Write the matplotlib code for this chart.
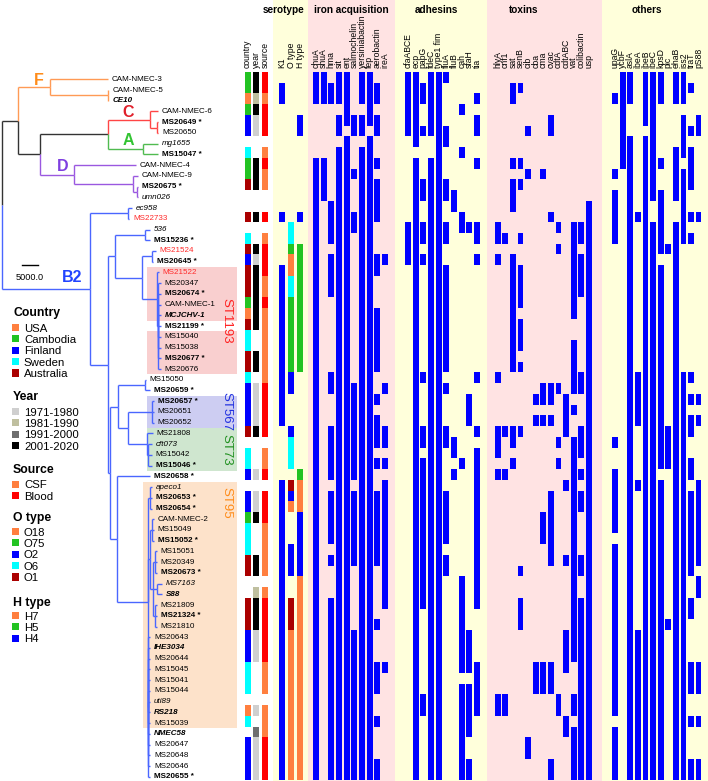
import matplotlib
matplotlib.use("Agg")
import matplotlib.pyplot as plt
from matplotlib.patches import Patch

plt.rcParams['font.family'] = ['Liberation Sans', 'DejaVu Sans']

W, H = 708, 781
ROW0, PITCH = 77.4, 10.73     # heatmap: centre of row 0 and row height (px)
ROW0_TREE = 79.3              # tree labels sit a little lower
PX = 312.5                    # tree units per pixel (5000 -> 16 px)

# ---------------- tree (branch lengths in SNPs) ----------------
TREE = (
    "(((CAM-NMEC-3:18100,(CAM-NMEC-5:150,CE10:150):18100)F:10000,"
    "(((CAM-NMEC-6:2500,(MS20649:300,MS20650:300):2200)C:13100,"
    "(mg1655:4700,MS15047:4700)A:10900):21250,"
    "(CAM-NMEC-4:19400,(CAM-NMEC-9:1600,(MS20675:300,umn026:300):1250):18400)D:10600):6900):5000,"
    "((ec958:1250,MS22733:300):11900,"
    "(((536:1600,MS15236:1600):9400,"
    "((MS21524:1250,MS20645:300):3100,"
    "(MS21522:600,(MS20347:900,MS20674:900,CAM-NMEC-1:900,MCJCHV-1:900,MS21199:900,"
    "MS15040:900,MS15038:900,MS20677:900,MS20676:900):300):4700):8400):2200,"
    "(((MS15050:300,MS20659:1600):8400,"
    "((MS20657:600,MS20651:600,MS20652:600):7500,"
    "(MS21808:1900,(cft073:1250,MS15042:1250,MS15046:1250):300):5900):3100):2500,"
    "(MS20658:10300,"
    "((apeco1:600,MS20653:600,MS20654:600):600,"
    "((CAM-NMEC-2:600,MS15049:600,MS15052:600):600,"
    "((MS15051:600,MS20349:600,MS20673:600):600,(MS7163:1600,S88:1600):1250,"
    "(MS21809:600,MS21324:600,MS21810:600):600):900):600,"
    "(MS20643:550,IHE3034:550,MS20644:550,MS15045:550,MS15041:550,MS15044:550,uti89:550,"
    "RS218:550,MS15039:550,NMEC58:550,MS20647:550,MS20648:550,MS20646:550,MS20655:550):100"
    "):9700):2200):600):5600)B2:27500);"
)

starred = ["MS20649", "MS15047", "MS20675", "MS15236", "MS20645", "MS20674", "MS21199",
           "MS20677", "MS20659", "MS20657", "MS15046", "MS20658", "MS20653", "MS20654",
           "MS15052", "MS20673", "MS21324", "MS20655"]
bold_italic = ["CE10", "MCJCHV-1", "S88", "IHE3034", "RS218", "NMEC58"]
italic = ["mg1655", "umn026", "ec958", "536", "cft073", "apeco1", "MS7163", "uti89"]
red_tips = ["MS22733", "MS21524", "MS21522"]

clade_line = {"F": "#ff9a55", "C": "#ff4545", "A": "#50bb50", "D": "#9a58e0", "B2": "#4a66ff"}
clade_text = {"F": "#ff8c1a", "C": "#e01f2a", "A": "#33c433", "D": "#7f3fe0", "B2": "#2244ff"}
# position of clade letter: fraction along stem, px above stem
clade_pos = {"F": (0.66, 7.3), "C": (0.48, 7.5), "A": (0.57, 9), "D": (0.68, 8.5), "B2": (0.8, 12)}

# sequence-type boxes: rows, box colour, text colour
st_boxes = [
    ("ST1193", "18-22,24-27", "#f9cfcf", "#ff2020"),
    ("ST567", "30-32", "#cdcdf2", "#2030e0"),
    ("ST73", "33-36", "#cfe6cf", "#209020"),
    ("ST95", "38-60", "#fde2ca", "#ff8c1a"),
]

# ---------------- metadata ----------------
country = {"USA": "2,22,59",
           "Cambodia": "0-1,3,8-9,21,41",
           "Finland": "4-5,17,29-32,37,39-40,52-54,62-65",
           "Sweden": "7,15,24-25,28,35-36,42-44,55-57,60",
           "Australia": "10,13,16,18-20,23,26-27,33,45-46,49-51"}
year = {"1971-1980": "4-5,17,29-32,37,39-40,52-54,59,62-65",
        "1981-1990": "2,48",
        "1991-2000": "61",
        "2001-2020": "0-1,3,8-10,13,16,18-23,26-27,33,41,45-46,49-51"}
source = {"CSF": "2,7,9-10,15,19-20,22-28,35-36,42-46,48,55-57,59-61",
          "Blood": "0-1,3-5,8,13,16-18,21,29-33,37,39-41,49-54,62-65"}
o_type = {"O18": "17-18,40,52-65", "O75": "16,21-27", "O2": "28-29,33,39,44-46",
          "O6": "14-15,19-20,34-36", "O1": "38,49-51"}
h_type = {"H7": "38-40,47-65", "H5": "16-27,37", "H4": "4-5,13,41-46"}
k1 = "1-2,13,18-32,38-65"

country_colors = {"USA": "#ff7f3f", "Cambodia": "#22c322", "Finland": "#0000ff",
                  "Sweden": "#00ffff", "Australia": "#aa0000"}
year_colors = {"1971-1980": "#cfcfcf", "1981-1990": "#bfbf9f",
               "1991-2000": "#6e6e6e", "2001-2020": "#000000"}
source_colors = {"CSF": "#ff7f3f", "Blood": "#ff0000"}
o_colors = {"O18": "#ff7f3f", "O75": "#22c322", "O2": "#0000ff", "O6": "#00ffff", "O1": "#aa0000"}
h_colors = {"H7": "#ff7f3f", "H5": "#22c322", "H4": "#0000ff"}

# ---------------- virulence genes (rows present) ----------------
iron = {"chuA": "0-2,8-65", "shuA": "0-2,8-11",
        "hma": "1-2,12-15,17-20,28-29,33-37,39-43,45,49-65",
        "sit": "0-2,4-5,7-65", "ent": "0-4,6-65",
        "salmochelin": "4-5,9,13-14,29-37,39-45,52-65",
        "yersiniabactin": "0-2,4-5,7-65", "fep": "0-4,6-65",
        "aerobactin": "1-2,4-5,8,10-13,17-18,22-27,30,32-34,36,39-45,51,55-57,60,64-65",
        "ireA": "17,29,33-34,36,38-49,55"}
adhesins = {"cfaABCE": "0-5,14-17", "ecp": "0-6,8-65",
            "papG": "1-2,5,10-11,14-15,17,28,33-34,36-49,58-59",
            "fdeC": "0-5,8-65", "type1 fim": "0-65",
            "fluA": "0,5-6,10-11,14-15,18-27,29,33-34,39-43,45-46",
            "fluB": "11-12,34-35,37", "cah": "3,7,13-14,36,47-55,57-65",
            "sfaH": "14,30-32,52-55,57-61,64-65",
            "tia": "2,4-5,8,14-15,17,28,33,35-49,55-59"}
toxins = {"hlyA": "14-15,17,28,33-35,37,58-59", "cnf1": "15,33,37,58-59",
          "sat": "1-2,8,10-12,17-27,33-34,36",
          "senB": "1,8,10,15,18-21,23-25,27,33,46,49-51",
          "cib": "5,9,62-63", "cba": "30,32,55-57", "cma": "9,29-30,32,41-43,55-57",
          "cvac": "4-5,13,29-30,32,39-45,55-57,64-65",
          "cdtA": "14,16,29,34,36,58-59", "cdtABC": "30-33,38,45,52-55,60-61",
          "vat": "14-22,25-29,31,34-54,58-59,61-65",
          "colibactin": "14-15,17-20,28-29,33-35,37,39-40,45-46,49-65",
          "usp": "12-65"}
others = {"upaG": "2,9,11-15,34,37-42,44-59,61-65", "ycbF": "0-8",
          "aslA": "0-2,6-65", "ibeA": "13,28-32,38,52-65", "ibeB": "0-4,6-65",
          "ibeC": "0-11,14-65", "kpsD": "0-2,8,11-16,18-36,38-65",
          "pic": "16,33-36,51", "ehaB": "0-2,7-11,14-65",
          "iss2": "0-2,4-7,9-15,28-65",
          "traT": "1,5,7-10,13,15,28,30,32-33,36-37,39-46,49-50,55-57,60,64-65",
          "pS88": "4-5,13,30,32,38-45,47-48,55-57,60,64-65"}


def runs(spec):
    out = []
    for part in spec.split(","):
        a, _, b = part.partition("-")
        out.append((int(a), int(b or a)))
    return out


def parse_newick(s):
    s = "".join(s.split())
    pos = 0

    def read():
        nonlocal pos
        kids = []
        if s[pos] == "(":
            pos += 1
            kids.append(read())
            while s[pos] == ",":
                pos += 1
                kids.append(read())
            pos += 1
        start = pos
        while s[pos] not in ",():;":
            pos += 1
        name = s[start:pos]
        length = 0.0
        if s[pos] == ":":
            pos += 1
            start = pos
            while s[pos] not in ",();":
                pos += 1
            length = float(s[start:pos])
        return {"name": name, "len": length, "kids": kids}
    return read()


root = parse_newick(TREE)
tips = []


def layout(node, x0, color):
    node["x"] = x0 + node["len"]
    node["px"] = x0
    node["color"] = clade_line.get(node["name"], color)
    if node["kids"]:
        for k in node["kids"]:
            layout(k, node["x"], node["color"])
        node["y"] = (node["kids"][0]["y"] + node["kids"][-1]["y"]) / 2
    else:
        node["y"] = len(tips)
        tips.append(node)


layout(root, 0.0, "#333333")

fig = plt.figure(figsize=(W / 100, H / 100), dpi=100)

# ---------------- tree panel ----------------
ax = fig.add_axes([0, 0, 240 / W, 1])
ax.set_xlim(-2 * PX, 238 * PX)
ax.set_ylim((H - ROW0_TREE) / PITCH, -ROW0_TREE / PITCH)
ax.axis("off")

for name, spec, bg, tc in st_boxes:
    rr = runs(spec)
    x0 = (143 if name == "ST95" else 147) / 240
    for a, b in rr:
        ax.axhspan(a - 0.5, b + 0.5, xmin=x0, xmax=237 / 240, color=bg, lw=0, zorder=0)
    mid = (rr[0][0] + rr[-1][1]) / 2 if name != "ST95" else rr[0][0] + 1.5
    ax.text(226 / 240, mid, name, transform=ax.get_yaxis_transform(), rotation=270,
            ha="center", va="center", color=tc, fontsize=9.5)


def draw(node):
    for k in node["kids"]:
        ax.plot([node["x"], node["x"]], [node["y"], k["y"]], color=k["color"], lw=1,
                solid_capstyle="butt", zorder=2)
        ax.plot([node["x"], k["x"]], [k["y"], k["y"]], color=k["color"], lw=1,
                solid_capstyle="butt", zorder=2)
        draw(k)
    if node["name"] in clade_pos:
        f, dy = clade_pos[node["name"]]
        ax.text(node["px"] + f * (node["x"] - node["px"]), node["y"] - dy / PITCH,
                node["name"], color=clade_text[node["name"]], fontsize=11.5,
                fontweight="bold", ha="center", va="center")


draw(root)

for t in tips:
    n = t["name"]
    label = n + " *" if n in starred else n
    ax.text(t["x"] + 4 * PX, t["y"], label, fontsize=5.8, va="center", ha="left",
            fontweight="bold" if (n in starred or n in bold_italic) else "normal",
            fontstyle="italic" if (n in italic or n in bold_italic) else "normal",
            color="#ff2a2a" if n in red_tips else "black", zorder=3)

# scale bar
sy = (265 - ROW0_TREE) / PITCH
ax.plot([20 * PX, 20 * PX + 5000], [sy, sy], color="black", lw=1)
ax.text(20 * PX + 2500, (277 - ROW0_TREE) / PITCH, "5000.0", fontsize=6.6,
        ha="center", va="center")

# ---------------- heatmap panels ----------------
YELLOW, PINK = "#ffffdb", "#ffe3e3"
YLIM = ((H - ROW0) / PITCH, -ROW0 / PITCH)
LABEL_Y = (68 - ROW0) / PITCH
HEAD_Y = (10 - ROW0) / PITCH


def panel(left, right, first, pitch, bg):
    a = fig.add_axes([left / W, 0, (right - left) / W, 1])
    a.set_xlim((left - first) / pitch, (right - first) / pitch)
    a.set_ylim(*YLIM)
    a.set_facecolor(bg)
    a.set_xticks([])
    a.set_yticks([])
    for sp in a.spines.values():
        sp.set_visible(False)
    return a


def bars(a, j, spec, color, width):
    for s, e in runs(spec):
        a.bar(j, e - s + 1, bottom=s - 0.5, width=width, color=color, lw=0)


def col_label(a, j, text):
    a.text(j, LABEL_Y, text, rotation=90, ha="center", va="bottom", fontsize=6.2)


# metadata columns
axm = panel(240, 273, 247.5, 8.75, "none")
for j, (title, data, cols) in enumerate([("country", country, country_colors),
                                         ("year", year, year_colors),
                                         ("source", source, source_colors)]):
    for cat, spec in data.items():
        bars(axm, j, spec, cols[cat], 6 / 8.75)
    col_label(axm, j, title)

# serotype
axs = panel(273, 308, 282, 9, YELLOW)
bars(axs, 0, k1, "#0000ff", 6 / 9)
for cat, spec in o_type.items():
    bars(axs, 1, spec, o_colors[cat], 6 / 9)
for cat, spec in h_type.items():
    bars(axs, 2, spec, h_colors[cat], 6 / 9)
for j, t in enumerate(["K1", "O type", "H type"]):
    col_label(axs, j, t)
axs.text((284 - 282) / 9, HEAD_Y, "serotype", ha="center", va="center",
         fontsize=7.2, fontweight="bold")

groups = [("iron acquisition", iron, 308, 395, 316, 7.67, 351, PINK),
          ("adhesins", adhesins, 395, 487, 408, 7.67, 436, YELLOW),
          ("toxins", toxins, 487, 602, 497.7, 7.6, 524, PINK),
          ("others", others, 602, 708, 615, 7.6, 647, YELLOW)]
for title, genes, left, right, first, pitch, hx, bg in groups:
    a = panel(left, right, first, pitch, bg)
    for j, (g, spec) in enumerate(genes.items()):
        bars(a, j, spec, "#0000ff", 5.8 / pitch)
        col_label(a, j, g)
    a.text((hx - first) / pitch, HEAD_Y, title, ha="center", va="center",
           fontsize=7.2, fontweight="bold")

# ---------------- legends ----------------
legends = [("Country", country_colors, 313, 323.5),
           ("Year", year_colors, 397, 407.5),
           ("Source", source_colors, 470, 480.5),
           ("O type", o_colors, 518, 527.5),
           ("H type", h_colors, 603, 611.5)]
for title, cols, ty, top in legends:
    fig.text(13 / W, 1 - ty / H, title, fontsize=8.8, fontweight="bold",
             ha="left", va="center")
    handles = [Patch(facecolor=c, edgecolor="none") for c in cols.values()]
    fig.legend(handles, list(cols.keys()), loc="upper left",
               bbox_to_anchor=(12 / W, 1 - top / H), frameon=False, fontsize=8.2,
               handlelength=0.6, handleheight=0.6, handletextpad=0.45,
               labelspacing=0.12, borderpad=0, borderaxespad=0)

fig.savefig("out.png", dpi=100)
